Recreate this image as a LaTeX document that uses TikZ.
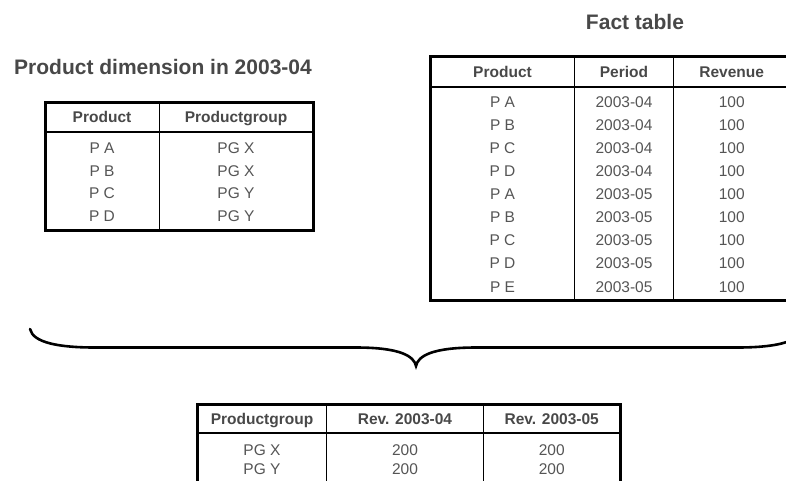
\documentclass[tikz,border=0pt]{standalone}
\usepackage{fontspec}
\setmainfont{Liberation Sans}
\begin{document}
\definecolor{headtext}{RGB}{72,72,72}
\definecolor{bodytext}{RGB}{85,85,85}
\begin{tikzpicture}[x=1pt,y=-1pt,
  title/.style={font=\fontsize{21}{24}\selectfont\bfseries, text=headtext, inner sep=0pt,
    text height=15pt, text depth=0pt},
  head/.style={font=\fontsize{15.5}{18}\selectfont\bfseries, text=headtext, inner sep=0pt,
    text height=11pt, text depth=0pt},
  cell/.style={font=\fontsize{15.5}{18}\selectfont, text=bodytext, inner sep=0pt,
    text height=11pt, text depth=0pt},
  frame/.style={line width=3pt},
  rule/.style={line width=1.8pt},
  colrule/.style={line width=1.4pt},
  bracestyle/.style={line width=2.6pt, line cap=round}]
\useasboundingbox (0,0) rectangle (786,480);
\clip (0,0) rectangle (786,480);

% ---- Product dimension table ----
\node[title] (t1title) at (163,67) {Product dimension in 2003-04};
\draw[frame] (45,102) rectangle (313,230.7);
\draw[rule] (45,131.7) -- (313,131.7);
\draw[colrule] (159.3,102) -- (159.3,230.7);
\node[head] (t1h1) at (102,117) {Product};
\node[head] (t1h2) at (236,117) {Productgroup};
\foreach \p/\g [count=\i from 0] in {A/X,B/X,C/Y,D/Y} {
  \node[cell] (t1p\i) at (102,148+22.5*\i) {P \p};
  \node[cell] (t1g\i) at (236,148+22.5*\i) {PG \g};
}

% ---- Fact table ----
\node[title] (t2title) at (635,22) {Fact table};
\draw[frame] (430.7,56.5) rectangle (792,300);
\draw[rule] (430.7,87) -- (792,87);
\draw[colrule] (574.3,56.5) -- (574.3,300);
\draw[colrule] (673.3,56.5) -- (673.3,300);
\node[head] (t2h1) at (502.5,72) {Product};
\node[head] (t2h2) at (624,72) {Period};
\node[head] (t2h3) at (731.7,72) {Revenue};
\foreach \p/\d [count=\i from 0] in {A/04,B/04,C/04,D/04,A/05,B/05,C/05,D/05,E/05} {
  \node[cell] (t2p\i) at (502.5,101.7+23.1*\i) {P \p};
  \node[cell] (t2d\i) at (624,101.7+23.1*\i) {2003-\d};
  \node[cell] (t2r\i) at (731.7,101.7+23.1*\i) {100};
}

% ---- curly brace joining both tables ----
\draw[bracestyle] (30,329)
  .. controls (33,343) and (60,347.5) .. (95,347.5)
  -- (356,347.5)
  .. controls (400,347.5) and (414,356) .. (416,366)
  .. controls (418,356) and (432,347.5) .. (476,347.5)
  -- (737,347.5)
  .. controls (772,347.5) and (799,343) .. (802,329);

% ---- Result table ----
\draw[frame] (197,404) rectangle (620,486);
\draw[rule] (197,432.7) -- (620,432.7);
\draw[colrule] (326.7,404) -- (326.7,486);
\draw[colrule] (483.3,404) -- (483.3,486);
\node[head] (t3h1) at (262,418.5) {Productgroup};
\node[head] (t3h2) at (405,418.5) {Rev. 2003-04};
\node[head] (t3h3) at (551.7,418.5) {Rev. 2003-05};
\foreach \g [count=\i from 0] in {X,Y} {
  \node[cell] (t3g\i) at (262,450+19*\i) {PG \g};
  \node[cell] (t3a\i) at (405,450+19*\i) {200};
  \node[cell] (t3b\i) at (551.7,450+19*\i) {200};
}
\end{tikzpicture}
\end{document}
